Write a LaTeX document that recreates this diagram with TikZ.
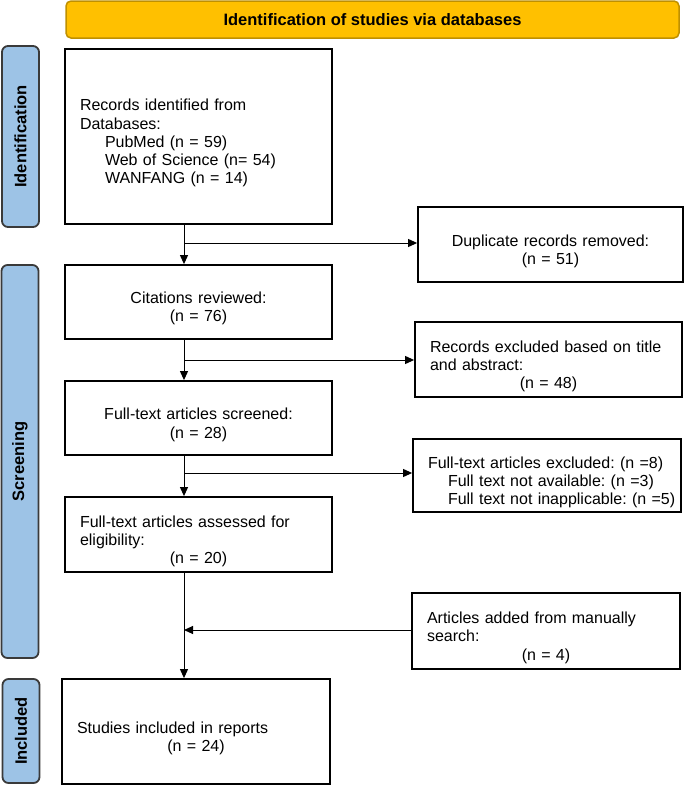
\documentclass[tikz,border=0pt]{standalone}
\usepackage{fontspec}
\setmainfont{Liberation Sans}
\usetikzlibrary{shapes,arrows.meta}
\definecolor{bannergold}{HTML}{FFC000}
\definecolor{bannerrim}{HTML}{BF9000}
\definecolor{phaseblue}{HTML}{9DC3E6}
\definecolor{phaserim}{HTML}{3A3A3A}
\frenchspacing

\begin{document}
\begin{tikzpicture}[x=1pt,y=-1pt,
  every node/.style={font=\fontsize{16}{18.3}\selectfont},
  box/.style={shape=rectangle,draw=black,line width=1.8pt,inner xsep=15pt,inner ysep=0pt,text width=#1,execute at begin node={\rule{0pt}{25pt}}},
  phase/.style={shape=rectangle,rounded corners=6pt,draw=phaserim,fill=phaseblue,line width=1.8pt,rotate=90,font=\fontsize{16.5}{18}\selectfont\bfseries,minimum height=37pt,inner sep=0pt},
  arr/.style={-{Triangle[length=9pt,width=8pt]},draw=black,line width=1pt}]
\useasboundingbox (0,0) rectangle (685,785);

\node[shape=rectangle,rounded corners=5pt,draw=bannerrim,fill=bannergold,line width=1.5pt,minimum width=613pt,minimum height=37pt,font=\fontsize{16.5}{18}\selectfont\bfseries] (9) at (372.5,19.5) {Identification of studies via databases};
\node[phase,minimum width=181pt] (10) at (20.5,136.5) {Identification};
\node[phase,minimum width=393pt] (11) at (20,461.5) {Screening};
\node[phase,minimum width=104pt] (12) at (21,731) {Included};

\node[box=237pt,minimum height=175pt,align=left] (0) at (198.5,136.5) {Records identified from\\Databases:\\\hspace*{25pt}PubMed (n = 59)\\\hspace*{25pt}Web of Science (n= 54)\\\hspace*{25pt}WANFANG (n = 14)};
\node[box=237pt,minimum height=74pt,align=center] (1) at (198.5,302) {Citations reviewed:\\(n = 76)};
\node[box=237pt,minimum height=74pt,align=center] (2) at (198.5,418) {Full-text articles screened:\\(n = 28)};
\node[box=237pt,minimum height=75pt,align=left] (3) at (198.5,534.5) {Full-text articles assessed for\\eligibility:\par\centerline{(n = 20)}};
\node[box=238pt,minimum height=105pt,align=left] (4) at (196,731.5) {Studies included in reports\par\centerline{(n = 24)}};

\node[box=235pt,minimum height=75pt,align=center] (5) at (550.5,244.5) {Duplicate records removed:\\(n = 51)};
\node[box=237pt,minimum height=75pt,align=left] (6) at (548.5,359.5) {Records excluded based on title\\and abstract:\par\centerline{(n = 48)}};
\node[box=252pt,inner xsep=8pt,minimum height=73pt,align=left] (7) at (547,475.5) {\hspace*{7pt}\mbox{Full-text articles excluded: (n =8)}\\\hspace*{27pt}\mbox{Full text not available: (n =3)}\\\hspace*{27pt}\mbox{Full text not inapplicable: (n =5)}};
\node[box=238pt,minimum height=76pt,align=left] (8) at (546,631) {Articles added from manually\\search:\par\centerline{(n = 4)}};

\coordinate (t0) at (184,243);
\coordinate (t1) at (184,360);
\coordinate (t2) at (184,473);
\coordinate (t3) at (184,630);

\draw [arr] (0.south -| t0) -- (1.north -| t0);
\draw [arr] (1.south -| t0) -- (2.north -| t0);
\draw [arr] (2.south -| t0) -- (3.north -| t0);
\draw [arr] (3.south -| t0) -- (4.north -| t0);
\draw [arr] (t0) -- (t0 -| 5.west);
\draw [arr] (t1) -- (t1 -| 6.west);
\draw [arr] (t2) -- (t2 -| 7.west);
\draw [arr] (8.west |- t3) -- (t3);
\end{tikzpicture}
\end{document}
